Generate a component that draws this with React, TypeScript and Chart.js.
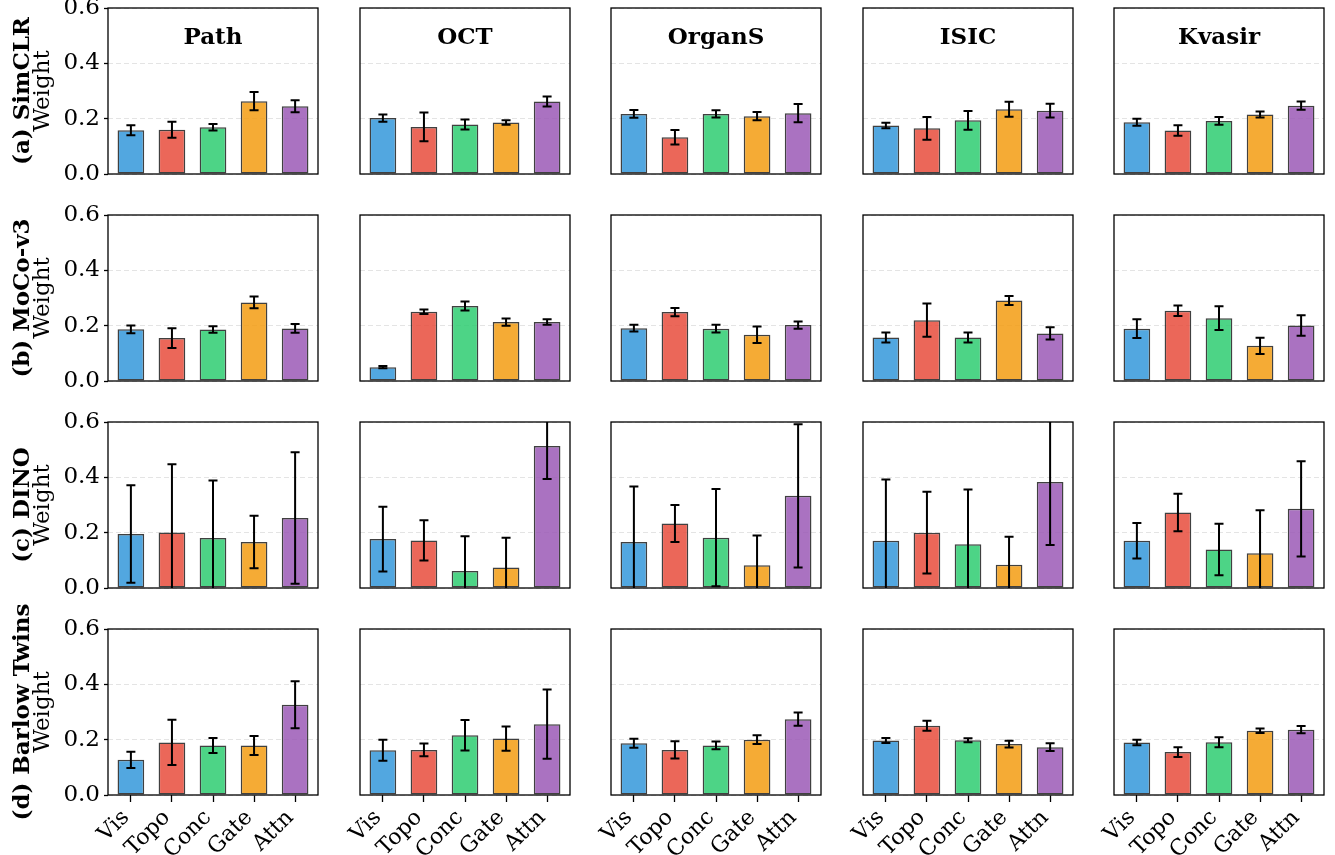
import React, { useEffect, useRef } from 'react';
import { Chart, registerables } from 'chart.js';

Chart.register(...registerables);

// ---------- data ----------
const methodNames = ['SimCLR', 'MoCo-v3', 'DINO', 'Barlow Twins'];
const methodTags = ['(a)', '(b)', '(c)', '(d)'];
const datasetNames = ['Path', 'OCT', 'OrganS', 'ISIC', 'Kvasir'];
const fusionLabels = ['Vis', 'Topo', 'Conc', 'Gate', 'Attn'];
const yTickValues = [0, 0.2, 0.4, 0.6];
const yAxisLabel = 'Weight';

// rows: datasets (Path, OCT, OrganS, ISIC, Kvasir); columns: fusion (Vis, Topo, Conc, Gate, Attn)
const simclrMean = [
  [0.158, 0.160, 0.169, 0.263, 0.245],
  [0.202, 0.170, 0.179, 0.186, 0.262],
  [0.217, 0.133, 0.217, 0.209, 0.220],
  [0.175, 0.165, 0.194, 0.234, 0.229],
  [0.187, 0.157, 0.192, 0.215, 0.247],
];
const simclrStd = [
  [0.018, 0.029, 0.012, 0.033, 0.022],
  [0.013, 0.052, 0.018, 0.008, 0.018],
  [0.014, 0.026, 0.013, 0.015, 0.033],
  [0.010, 0.041, 0.034, 0.027, 0.025],
  [0.013, 0.019, 0.014, 0.011, 0.015],
];
const mocoMean = [
  [0.187, 0.155, 0.186, 0.284, 0.190],
  [0.050, 0.250, 0.271, 0.213, 0.213],
  [0.191, 0.249, 0.189, 0.167, 0.202],
  [0.157, 0.220, 0.157, 0.291, 0.172],
  [0.189, 0.254, 0.227, 0.127, 0.201],
];
const mocoStd = [
  [0.014, 0.036, 0.012, 0.021, 0.016],
  [0.004, 0.008, 0.016, 0.013, 0.010],
  [0.012, 0.015, 0.014, 0.030, 0.013],
  [0.018, 0.060, 0.018, 0.016, 0.022],
  [0.034, 0.019, 0.043, 0.029, 0.037],
];
const dinoMean = [
  [0.195, 0.201, 0.181, 0.166, 0.253],
  [0.177, 0.172, 0.061, 0.074, 0.513],
  [0.166, 0.233, 0.182, 0.082, 0.333],
  [0.171, 0.200, 0.158, 0.084, 0.383],
  [0.171, 0.273, 0.139, 0.126, 0.286],
];
const dinoStd = [
  [0.176, 0.246, 0.208, 0.095, 0.238],
  [0.117, 0.073, 0.126, 0.108, 0.119],
  [0.201, 0.067, 0.176, 0.108, 0.259],
  [0.221, 0.148, 0.198, 0.101, 0.228],
  [0.064, 0.068, 0.093, 0.155, 0.172],
];
const barlowMean = [
  [0.127, 0.190, 0.179, 0.179, 0.326],
  [0.162, 0.163, 0.216, 0.204, 0.256],
  [0.187, 0.163, 0.179, 0.200, 0.274],
  [0.197, 0.250, 0.198, 0.184, 0.173],
  [0.190, 0.155, 0.191, 0.232, 0.236],
];
const barlowStd = [
  [0.029, 0.082, 0.027, 0.034, 0.085],
  [0.038, 0.023, 0.055, 0.044, 0.125],
  [0.016, 0.031, 0.014, 0.016, 0.024],
  [0.009, 0.018, 0.007, 0.012, 0.014],
  [0.010, 0.018, 0.018, 0.008, 0.013],
];

const meansByMethod = [simclrMean, mocoMean, dinoMean, barlowMean];
const stdsByMethod = [simclrStd, mocoStd, dinoStd, barlowStd];

// ---------- style / layout ----------
const fusionColors = [
  'rgba(52,152,219,0.85)',
  'rgba(231,76,60,0.85)',
  'rgba(46,204,113,0.85)',
  'rgba(243,156,18,0.85)',
  'rgba(155,89,182,0.85)',
];
const FONT = '"DejaVu Serif", serif';
const FS = 23;
const XFS = 22;
const COL_X = [108, 360, 611, 863, 1114];
const ROW_Y = [8, 215, 422, 629];
const PLOT_W = 210;
const PLOT_H = 166;
const X_PAD = 0.5575;

function Panel({ r, c }: { r: number; c: number }) {
  const ref = useRef<HTMLCanvasElement | null>(null);
  const L = c === 0 ? COL_X[0] : 70;
  const T = 12;
  const R = 12;
  const B = r === 3 ? 62 : 12;
  const W = L + PLOT_W + R;
  const H = T + PLOT_H + B;

  useEffect(() => {
    const canvas = ref.current;
    if (!canvas) return;
    const means = meansByMethod[r][c];
    const stds = stdsByMethod[r][c];
    const title = datasetNames[c];

    const panelPlugin = {
      id: 'panelDecor',
      afterDatasetsDraw(chart: any) {
        const { ctx, chartArea: a, scales } = chart;
        const xs = scales.x;
        const ys = scales.y;
        ctx.save();
        ctx.beginPath();
        ctx.rect(a.left, a.top, a.right - a.left, a.bottom - a.top);
        ctx.clip();
        ctx.strokeStyle = '#000';
        ctx.lineWidth = 2;
        const cap = 4.5;
        means.forEach((m: number, i: number) => {
          const px = xs.getPixelForValue(i);
          const hi = ys.getPixelForValue(m + stds[i]);
          const lo = ys.getPixelForValue(m - stds[i]);
          ctx.beginPath();
          ctx.moveTo(px, hi);
          ctx.lineTo(px, lo);
          ctx.moveTo(px - cap, hi);
          ctx.lineTo(px + cap, hi);
          ctx.moveTo(px - cap, lo);
          ctx.lineTo(px + cap, lo);
          ctx.stroke();
        });
        ctx.restore();

        ctx.save();
        ctx.strokeStyle = '#000';
        ctx.lineWidth = 1.3;
        ctx.strokeRect(a.left, a.top, a.right - a.left, a.bottom - a.top);
        if (r === 0) {
          ctx.fillStyle = '#000';
          ctx.font = `bold ${FS}px ${FONT}`;
          ctx.textAlign = 'center';
          ctx.textBaseline = 'alphabetic';
          ctx.fillText(title, (a.left + a.right) / 2, a.top + 36);
        }
        ctx.restore();
      },
    };

    const chart = new Chart(canvas, {
      type: 'bar',
      data: {
        datasets: [
          {
            data: means.map((v: number, i: number) => ({ x: i, y: v })),
            backgroundColor: fusionColors,
            borderColor: 'rgba(30,30,30,0.85)',
            borderWidth: 1.5,
            borderSkipped: false,
            barPercentage: 0.65,
            categoryPercentage: 1,
          } as any,
        ],
      },
      options: {
        responsive: false,
        animation: false,
        events: [],
        layout: { padding: { left: 0, top: T, right: R, bottom: 0 } },
        plugins: { legend: { display: false }, tooltip: { enabled: false }, title: { display: false } },
        scales: {
          x: {
            type: 'linear',
            min: -X_PAD,
            max: fusionLabels.length - 1 + X_PAD,
            offset: false,
            afterBuildTicks: (s: any) => {
              s.ticks = fusionLabels.map((_, i) => ({ value: i }));
            },
            afterFit: (s: any) => {
              s.height = B;
              s.paddingLeft = 0;
              s.paddingRight = 0;
              s.paddingTop = 0;
              s.paddingBottom = 0;
            },
            ticks: {
              display: r === 3,
              autoSkip: false,
              minRotation: 45,
              maxRotation: 45,
              padding: 3,
              labelOffset: -5,
              color: '#000',
              font: { family: FONT, size: XFS },
              callback: (v: any) => fusionLabels[Math.round(v)],
            },
            grid: {
              display: r === 3,
              offset: false,
              drawOnChartArea: false,
              drawTicks: true,
              tickLength: 7,
              tickColor: '#000',
              tickWidth: 1.3,
            },
            border: { display: false },
          },
          y: {
            type: 'linear',
            min: 0,
            max: 0.6,
            afterBuildTicks: (s: any) => {
              s.ticks = yTickValues.map((v) => ({ value: v }));
            },
            afterFit: (s: any) => {
              s.width = L;
              s.paddingTop = 0;
              s.paddingBottom = 0;
              s.paddingLeft = 0;
              s.paddingRight = 0;
            },
            ticks: {
              display: c === 0,
              padding: 4,
              color: '#000',
              font: { family: FONT, size: FS },
              callback: (v: any) => Number(v).toFixed(1),
            },
            grid: {
              color: 'rgba(210,210,210,0.6)',
              lineWidth: 1,
              drawTicks: c === 0,
              tickLength: 4,
              tickColor: '#000',
              tickWidth: 1.3,
            },
            border: { display: false, dash: [5, 3] },
            title: {
              display: c === 0,
              text: yAxisLabel,
              color: '#000',
              font: { family: FONT, size: FS },
              padding: { top: 29, bottom: 0 },
            },
          },
        },
      } as any,
      plugins: [panelPlugin],
    });
    return () => chart.destroy();
  }, [r, c]);

  return (
    <canvas
      ref={ref}
      width={W}
      height={H}
      style={{ position: 'absolute', left: COL_X[c] - L, top: ROW_Y[r] - T, width: W, height: H }}
    />
  );
}

export default function App() {
  return (
    <div style={{ position: 'absolute', left: 0, top: 0, width: 1335, height: 855, background: '#fff', overflow: 'hidden' }}>
      {methodNames.map((_, r) =>
        datasetNames.map((__, c) => <Panel key={`${r}-${c}`} r={r} c={c} />)
      )}
      {methodNames.map((name, r) => (
        <div
          key={`lab-${r}`}
          style={{
            position: 'absolute',
            left: 20,
            top: ROW_Y[r] + PLOT_H / 2,
            transform: 'translate(-50%, -50%) rotate(-90deg)',
            fontFamily: FONT,
            fontWeight: 'bold',
            fontSize: FS,
            lineHeight: 1,
            whiteSpace: 'nowrap',
            color: '#000',
          }}
        >
          {`${methodTags[r]} ${name}`}
        </div>
      ))}
    </div>
  );
}
